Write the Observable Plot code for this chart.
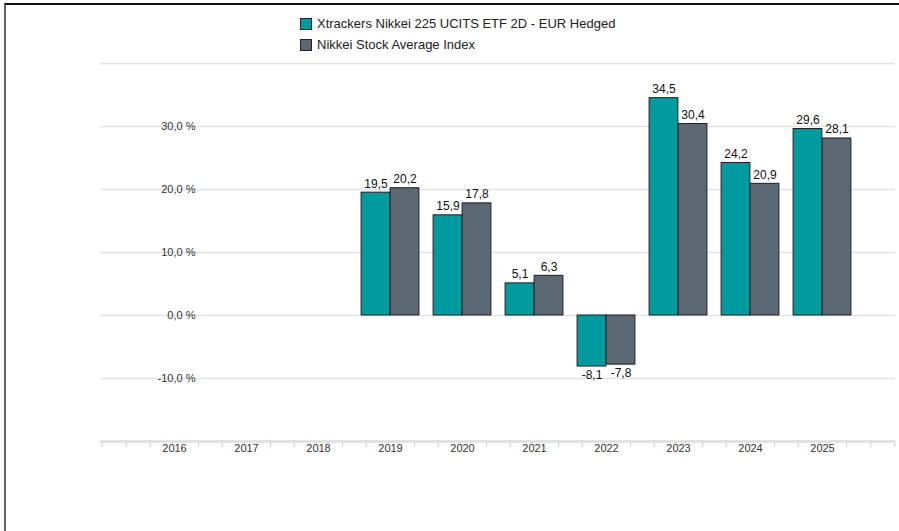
<!DOCTYPE html>
<html>
<head>
<meta charset="utf-8">
<script src="https://cdn.jsdelivr.net/npm/d3@7"></script>
<script src="https://cdn.jsdelivr.net/npm/@observablehq/plot@0.6"></script>
<style>
  html, body { margin: 0; padding: 0; background: #fff; }
  body { width: 899px; height: 531px; overflow: hidden; position: relative; font-family: "Liberation Sans", Arial, sans-serif; }
  #frame { position: absolute; left: 4px; top: 3px; right: 0; bottom: 0; border-top: 2px solid #111; border-left: 2px solid #666; pointer-events: none; }
  #chart { position: absolute; left: 0; top: 0; }
  #legend { position: absolute; left: 300px; top: 13px; font-size: 13px; color: #222; }
  #legend .row { display: flex; align-items: center; height: 21px; }
  #legend .sw { width: 10px; height: 10px; border: 1px solid #222; margin-right: 5px; box-sizing: content-box; }
</style>
</head>
<body>
<div id="chart"></div>
<div id="legend"></div>
<div id="frame"></div>
<script>
const years = [2016, 2017, 2018, 2019, 2020, 2021, 2022, 2023, 2024, 2025];
const seriesNames = ["Xtrackers Nikkei 225 UCITS ETF 2D - EUR Hedged", "Nikkei Stock Average Index"];
const etfValues   = [null, null, null, 19.5, 15.9, 5.1, -8.1, 34.5, 24.2, 29.6];
const indexValues = [null, null, null, 20.2, 17.8, 6.3, -7.8, 30.4, 20.9, 28.1];
const yTicks = [-10, 0, 10, 20, 30];
const gridValues = [-10, 0, 10, 20, 30, 40];
const colors = ["#009b9e", "#5a6974"];

const etf = years.map((y, i) => ({year: String(y), value: etfValues[i]})).filter(d => d.value != null);
const idx = years.map((y, i) => ({year: String(y), value: indexValues[i]})).filter(d => d.value != null);
const yearStr = years.map(String);

const fmt = v => v.toFixed(1).replace(".", ",");
const W = 899, H = 531;
const xRange = [136.5, 858.5];
const step = (xRange[1] - xRange[0]) / years.length;
const half = step / 2;
const barW = 29;

const tickMarks = [];
for (const k of [-1, 1]) tickMarks.push(Plot.ruleX(yearStr, {x: d => d, y1: -20, y2: -21, dx: k * step / 3, stroke: "#d6d6d6", strokeWidth: 1.2}));
tickMarks.push(Plot.ruleX([yearStr[0]], {x: d => d, y1: -20, y2: -21, dx: -step, stroke: "#d6d6d6", strokeWidth: 1.2}));
tickMarks.push(Plot.ruleX([yearStr[0]], {x: d => d, y1: -20, y2: -21, dx: -2 * step / 3, stroke: "#d6d6d6", strokeWidth: 1.2}));
tickMarks.push(Plot.ruleX([yearStr[yearStr.length - 1]], {x: d => d, y1: -20, y2: -21, dx: 2 * step / 3, stroke: "#d6d6d6", strokeWidth: 1.2}));
tickMarks.push(Plot.ruleX([yearStr[yearStr.length - 1]], {x: d => d, y1: -20, y2: -21, dx: step, stroke: "#d6d6d6", strokeWidth: 1.2}));

const plot = Plot.plot({
  width: W,
  height: H,
  marginTop: 63,
  marginBottom: 90,
  marginLeft: 100,
  marginRight: 4,
  style: {fontFamily: "Liberation Sans, Arial, sans-serif", background: "transparent"},
  x: {type: "band", domain: yearStr, range: xRange, padding: 0, axis: null},
  y: {domain: [-20, 40], axis: null},
  marks: [
    Plot.ruleY(gridValues, {stroke: "#e4e4e4", strokeWidth: 1.3}),
    Plot.ruleY([-20], {stroke: "#e2e2e2", strokeWidth: 3}),
    ...tickMarks,
    Plot.text(yTicks, {x: null, y: d => d, frameAnchor: "left", text: d => fmt(d) + " %", textAnchor: "end", dx: 95, fontSize: 11, fill: "#333"}),
    Plot.text(yearStr, {x: d => d, y: -20, text: d => d, lineAnchor: "top", dy: 3, fontSize: 11, fill: "#333"}),
    Plot.barY(etf, {x: "year", y1: 0, y2: "value", fill: colors[0], stroke: "#1e1e1e", strokeWidth: 1, insetLeft: half - barW, insetRight: half}),
    Plot.barY(idx, {x: "year", y1: 0, y2: "value", fill: colors[1], stroke: "#1e1e1e", strokeWidth: 1, insetLeft: half, insetRight: half - barW}),
    Plot.text(etf.filter(d => d.value >= 0), {x: "year", y: "value", text: d => fmt(d.value), dx: -barW / 2, dy: -5, lineAnchor: "bottom", fontSize: 12, fill: "#111"}),
    Plot.text(idx.filter(d => d.value >= 0), {x: "year", y: "value", text: d => fmt(d.value), dx: barW / 2, dy: -5, lineAnchor: "bottom", fontSize: 12, fill: "#111"}),
    Plot.text(etf.filter(d => d.value < 0), {x: "year", y: "value", text: d => fmt(d.value), dx: -barW / 2, dy: 4, lineAnchor: "top", fontSize: 12, fill: "#111"}),
    Plot.text(idx.filter(d => d.value < 0), {x: "year", y: "value", text: d => fmt(d.value), dx: barW / 2, dy: 4, lineAnchor: "top", fontSize: 12, fill: "#111"})
  ]
});
document.getElementById("chart").appendChild(plot);

const legend = document.getElementById("legend");
seriesNames.forEach((name, i) => {
  const row = document.createElement("div");
  row.className = "row";
  const sw = document.createElement("span");
  sw.className = "sw";
  sw.style.background = colors[i];
  const t = document.createElement("span");
  t.textContent = name;
  row.appendChild(sw);
  row.appendChild(t);
  legend.appendChild(row);
});
</script>
</body>
</html>
